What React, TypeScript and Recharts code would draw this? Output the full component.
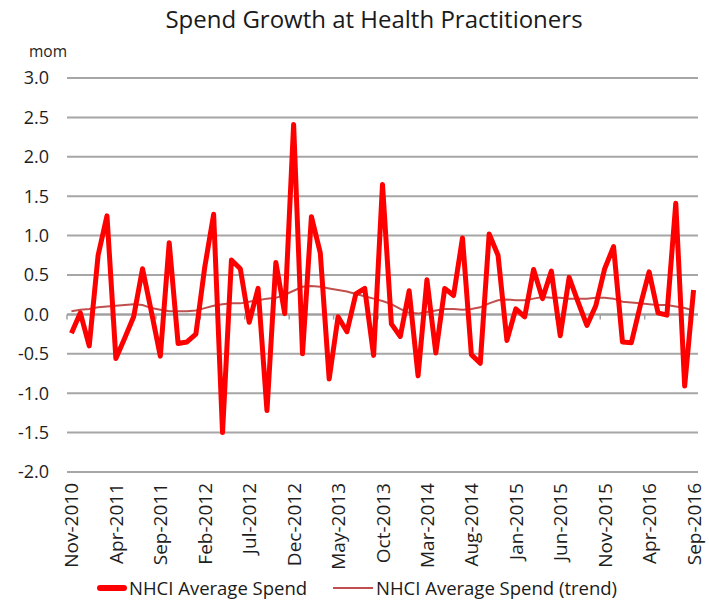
import { LineChart, Line, XAxis, YAxis, CartesianGrid, ReferenceLine } from "recharts"

const months = [
  "Nov-2010", "Dec-2010",
  "Jan-2011", "Feb-2011", "Mar-2011", "Apr-2011", "May-2011", "Jun-2011", "Jul-2011", "Aug-2011", "Sep-2011", "Oct-2011", "Nov-2011", "Dec-2011",
  "Jan-2012", "Feb-2012", "Mar-2012", "Apr-2012", "May-2012", "Jun-2012", "Jul-2012", "Aug-2012", "Sep-2012", "Oct-2012", "Nov-2012", "Dec-2012",
  "Jan-2013", "Feb-2013", "Mar-2013", "Apr-2013", "May-2013", "Jun-2013", "Jul-2013", "Aug-2013", "Sep-2013", "Oct-2013", "Nov-2013", "Dec-2013",
  "Jan-2014", "Feb-2014", "Mar-2014", "Apr-2014", "May-2014", "Jun-2014", "Jul-2014", "Aug-2014", "Sep-2014", "Oct-2014", "Nov-2014", "Dec-2014",
  "Jan-2015", "Feb-2015", "Mar-2015", "Apr-2015", "May-2015", "Jun-2015", "Jul-2015", "Aug-2015", "Sep-2015", "Oct-2015", "Nov-2015", "Dec-2015",
  "Jan-2016", "Feb-2016", "Mar-2016", "Apr-2016", "May-2016", "Jun-2016", "Jul-2016", "Aug-2016", "Sep-2016",
]

// month-on-month growth, %
const spend = [
  -0.24, 0.02, -0.40, 0.75, 1.25, -0.56, -0.30, -0.03, 0.58, 0.03,
  -0.53, 0.91, -0.37, -0.35, -0.25, 0.60, 1.27, -1.50, 0.69, 0.58,
  -0.10, 0.33, -1.22, 0.66, 0.01, 2.41, -0.50, 1.24, 0.78, -0.82,
  -0.03, -0.22, 0.26, 0.33, -0.52, 1.65, -0.12, -0.28, 0.30, -0.78,
  0.44, -0.49, 0.33, 0.24, 0.97, -0.51, -0.62, 1.02, 0.75, -0.33,
  0.07, -0.03, 0.57, 0.20, 0.55, -0.27, 0.47, 0.16, -0.14, 0.11,
  0.58, 0.86, -0.35, -0.36, 0.11, 0.54, 0.02, -0.01, 1.41, -0.91,
  0.31,
]

const trend = [
  0.04, 0.06, 0.07, 0.09, 0.10, 0.11, 0.12, 0.13, 0.12, 0.08,
  0.06, 0.04, 0.04, 0.04, 0.05, 0.08, 0.11, 0.13, 0.14, 0.14,
  0.16, 0.18, 0.20, 0.21, 0.25, 0.30, 0.35, 0.36, 0.35, 0.33,
  0.31, 0.29, 0.26, 0.23, 0.20, 0.17, 0.13, 0.07, 0.02, 0.01,
  0.03, 0.05, 0.07, 0.07, 0.06, 0.07, 0.09, 0.14, 0.18, 0.19,
  0.18, 0.18, 0.20, 0.22, 0.21, 0.21, 0.20, 0.20, 0.20, 0.21,
  0.21, 0.20, 0.16, 0.15, 0.14, 0.13, 0.12, 0.12, 0.10, 0.08,
  0.05,
]

const yTicks = [-2, -1.5, -1, -0.5, 0, 0.5, 1, 1.5, 2, 2.5, 3]
const labelEvery = 5

const data = months.map((m, i) => ({ i, month: m, spend: spend[i], trend: trend[i] }))
const xTicks = months.map((_, i) => i).filter((i) => i % labelEvery === 0)
// excel-style tick marks sit between categories
const tickMarks = xTicks.map((i) => i - 0.5)

const font = "'Open Sans', sans-serif"

const MonthTick = ({ x, y, payload }: any) => (
  <text
    x={x}
    y={y}
    transform={`rotate(-90 ${x} ${y})`}
    textAnchor="end"
    dominantBaseline="central"
    fill="#1e1e1e"
    fontSize={19}
    fontFamily={font}
  >
    {months[payload.value]}
  </text>
)

const legendItem = {
  position: "absolute" as const,
  top: 575,
  height: 25,
  lineHeight: "25px",
  display: "flex",
  alignItems: "center",
  whiteSpace: "nowrap" as const,
  fontSize: 18.5,
  color: "#1a1a1a",
}

export default function App() {
  return (
    <div style={{ position: "absolute", left: 0, top: 0, width: 709, height: 601, background: "#fff", fontFamily: font, overflow: "hidden" }}>
      <div style={{ position: "absolute", top: 2, left: 0, width: 748, textAlign: "center", fontSize: 24, color: "#1a1a1a" }}>
        Spend Growth at Health Practitioners
      </div>
      <div style={{ position: "absolute", left: 29, top: 40, fontSize: 15.5, color: "#1e1e1e" }}>mom</div>

      <LineChart width={709} height={601} data={data} margin={{ top: 78, right: 11, left: 0, bottom: 0 }}>
        <CartesianGrid vertical={false} stroke="#a6a6a6" strokeWidth={2} />
        <XAxis
          dataKey="i"
          type="number"
          domain={[-0.5, months.length - 0.5]}
          ticks={xTicks}
          interval={0}
          height={129}
          axisLine={false}
          tickLine={false}
          tickSize={0}
          tickMargin={11}
          tick={<MonthTick />}
        />
        <YAxis
          domain={[-2, 3]}
          ticks={yTicks}
          width={67}
          axisLine={false}
          tickLine={false}
          tickSize={0}
          tickMargin={18}
          tickFormatter={(v: number) => v.toFixed(1)}
          tick={{ fill: "#1e1e1e", fontSize: 18, fontFamily: font }}
        />
        <ReferenceLine y={0} stroke="#a0a0a0" strokeWidth={2} />
        {tickMarks.map((t) => (
          <ReferenceLine key={t} segment={[{ x: t, y: 0 }, { x: t, y: -0.065 }]} stroke="#a0a0a0" strokeWidth={1.5} />
        ))}
        <Line type="linear" dataKey="trend" stroke="#c0504d" strokeWidth={2} dot={false} isAnimationActive={false} />
        <Line type="linear" dataKey="spend" stroke="#ff0000" strokeWidth={5} strokeLinejoin="round" dot={false} isAnimationActive={false} />
      </LineChart>

      <div style={{ ...legendItem, left: 97 }}>
        <span style={{ display: "inline-block", width: 30, height: 6, background: "#ff0000", borderRadius: 3, marginRight: 2 }} />
        NHCI Average Spend
      </div>
      <div style={{ ...legendItem, left: 333 }}>
        <span style={{ display: "inline-block", width: 40, height: 2, background: "#c0504d", marginRight: 3 }} />
        NHCI Average Spend (trend)
      </div>
    </div>
  )
}
